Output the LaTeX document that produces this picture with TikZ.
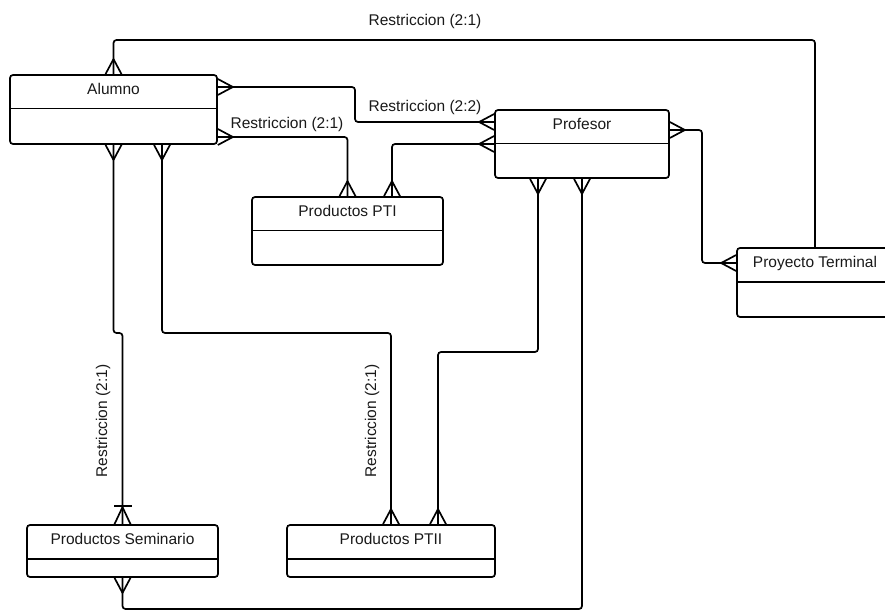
\documentclass[tikz,border=0pt]{standalone}
\usepackage{fontspec}
\setmainfont{Liberation Sans}
\usetikzlibrary{arrows.meta}

% pata de gallo (muchos)
\pgfdeclarearrow{
  name = Crow,
  parameters = {\the\pgfarrowlength,\the\pgfarrowwidth},
  setup code = {
    \pgfarrowssettipend{0pt}
    \pgfarrowssetlineend{0pt}
    \pgfarrowssetbackend{-\pgfarrowlength}
    \pgfarrowssetvisualbackend{-\pgfarrowlength}
    \pgfarrowssavethe\pgfarrowlength
    \pgfarrowssavethe\pgfarrowwidth
  },
  drawing code = {
    \pgfsetdash{}{0pt}
    \pgfsetroundjoin
    \pgfpathmoveto{\pgfqpoint{0pt}{.5\pgfarrowwidth}}
    \pgfpathlineto{\pgfqpoint{-\pgfarrowlength}{0pt}}
    \pgfpathlineto{\pgfqpoint{0pt}{-.5\pgfarrowwidth}}
    \pgfusepathqstroke
  },
  defaults = {length = 15pt, width = 16pt}
}

\begin{document}
\begin{tikzpicture}[x=1pt, y=-1pt, line width=1.7pt,
    entity/.style = {draw, rounded corners=3pt, inner sep=0pt},
    title/.style = {font=\fontsize{15.5}{18}\selectfont, text=black!90, anchor=base},
    lbl/.style = {font=\fontsize{15.5}{18}\selectfont, text=black!90},
    rel/.style = {rounded corners=3pt}]
\useasboundingbox (0,0) rectangle (885,612);
% entidades
\node[entity, minimum width=207pt, minimum height=69pt] (alumno) at (113.5,109.5) {};
\node[entity, minimum width=191pt, minimum height=68pt] (pti) at (347.5,231) {};
\node[entity, minimum width=174pt, minimum height=68pt] (profesor) at (582,144) {};
\node[entity, minimum width=156pt, minimum height=69pt] (pt) at (815,282.5) {};
\node[entity, minimum width=191pt, minimum height=52pt] (seminario) at (122.5,551) {};
\node[entity, minimum width=208pt, minimum height=52pt] (ptii) at (391,551) {};
\foreach \e in {alumno,pti,profesor,pt,seminario,ptii}
  \draw ([yshift=-34.5pt]\e.north west) -- ([yshift=-34.5pt]\e.north east);
\node[title] (alumnoT) at ([yshift=-20.5pt]alumno.north) {Alumno};
\node[title] (ptiT) at ([yshift=-20.5pt]pti.north) {Productos PTI};
\node[title] (profesorT) at ([yshift=-20.5pt]profesor.north) {Profesor};
\node[title] (ptT) at ([yshift=-20.5pt]pt.north) {Proyecto Terminal};
\node[title] (seminarioT) at ([yshift=-20.5pt]seminario.north) {Productos Seminario};
\node[title] (ptiiT) at ([yshift=-20.5pt]ptii.north) {Productos PTII};
% relaciones
\draw[rel, Crow-] (alumno.north) |- (pt.north |- 0,40) -- (pt.north);
\draw[rel, Crow-Crow] (alumno.east |- 0,87) -| (355,104.5) |- (profesor.west |- 0,122);
\draw[rel, Crow-Crow] (alumno.east |- 0,137) -| (pti.north);
\draw[rel, Crow-Crow] (pti.north -| 392,0) |- (profesor.west);
\draw[rel, Crow-Crow] (profesor.east |- 0,130) -| (702,200) |- (pt.west |- 0,263);
\draw[rel, Crow-{Bar[width=18pt,sep=0pt]Crow[length=17pt]}] (alumno.south) |- (seminario.north |- 0,333) -- (seminario.north);
\draw[rel, Crow-Crow] (alumno.south -| 162,0) |- (ptii.north |- 0,333) -- (ptii.north);
\draw[rel, Crow-Crow] (profesor.south -| 538,0) |- (438,352) -- (ptii.north -| 438,0);
\draw[rel, Crow-Crow] (profesor.south) |- (seminario.south |- 0,609) -- (seminario.south);
% etiquetas
\node[lbl] (r1) at (425,21) {Restriccion (2:1)};
\node[lbl] (r2) at (425,107) {Restriccion (2:2)};
\node[lbl] (r3) at (287,124) {Restriccion (2:1)};
\node[lbl, rotate=90] (r4) at (103,421) {Restriccion (2:1)};
\node[lbl, rotate=90] (r5) at (372,421) {Restriccion (2:1)};
\end{tikzpicture}
\end{document}
